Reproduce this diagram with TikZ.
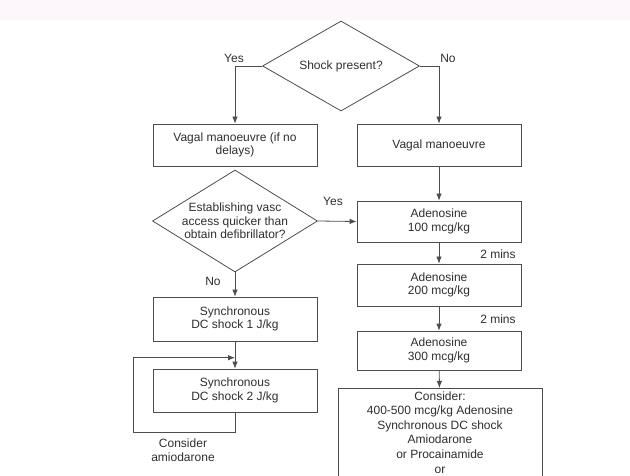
\documentclass[tikz,border=0pt]{standalone}
\usepackage{fontspec}
\setmainfont{Liberation Sans}
\usetikzlibrary{arrows}
\usetikzlibrary{arrows.meta}
\usetikzlibrary{calc}
\usetikzlibrary{positioning}
\usetikzlibrary{shapes.geometric}
\definecolor{linegray}{HTML}{4D4D4D}
\definecolor{textgray}{HTML}{2E2E2E}
\definecolor{bandpink}{HTML}{FDF7FB}
\tikzset{
	stepbox/.style={draw=linegray,line width=0.8pt,minimum width=164pt,minimum height=42pt,align=center,inner sep=2pt},
	choice/.style={draw=linegray,line width=0.8pt,diamond,align=center,inner xsep=-10pt,inner ysep=-5pt,shape aspect=1.65},
	flow/.style={draw=linegray,line width=0.8pt,-{Latex[length=7pt,width=5.5pt]}},
	tag/.style={inner sep=0pt,align=center}
}
\begin{document}
\begin{tikzpicture}[x=1pt,y=-1pt,font=\fontsize{12}{13.5}\selectfont,text=textgray]
		\useasboundingbox (0,0) rectangle (630,476);
		% left column
		\node[choice,minimum width=157pt,minimum height=90pt](shock) at (341,66) {Shock present?};
		\node[stepbox](vagalL) at (235,145) {Vagal manoeuvre (if no\\delays)};
		\node[choice,minimum width=165pt,minimum height=102pt](access) at (235,221) {Establishing vasc\\access quicker than\\obtain defibrillator?};
		\node[stepbox,minimum height=44pt](dcA) at (235,319) {Synchronous\\DC shock 1 J/kg};
		\node[stepbox,minimum height=43pt](dcB) at (235,390.5) {Synchronous\\DC shock 2 J/kg};
		% right column
		\node[stepbox](vagalR) at (439,145) {Vagal manoeuvre};
		\node[stepbox,minimum height=41pt](adenA) at (439,221.5) {Adenosine\\100 mcg/kg};
		\node[stepbox](adenB) at (439,285) {Adenosine\\200 mcg/kg};
		\node[stepbox,minimum height=39pt](adenC) at (439,350.5) {Adenosine\\300 mcg/kg};
		\node[stepbox,minimum width=204pt,anchor=north,inner ysep=3pt,font=\fontsize{12}{14.6}\selectfont](other) at (440,388) {Consider:\\400-500 mcg/kg Adenosine\\Synchronous DC shock\\Amiodarone\\or Procainamide\\or};
		% connectors
		\draw[flow] (shock.west) -| (vagalL.north);
		\draw[flow] (shock.east) -| (vagalR.north);
		\draw[flow] (vagalR) -- (adenA);
		\draw[flow] (access.east) -- (adenA.west);
		\draw[flow] (access.south) -- (dcA.north);
		\draw[flow] (dcA) -- (dcB);
		\draw[flow] (adenA) -- (adenB);
		\draw[flow] (adenB) -- (adenC);
		\draw[flow] (adenC) -- (other);
		\coordinate (loopin) at ($(dcA.south)!0.6!(dcB.north)$);
		\draw[flow] (dcB.south) -- ++(0,20) -| ([xshift=-102pt]loopin) -- (loopin);
		% labels
		\node[tag](yesA) at (234,58) {Yes};
		\node[tag](noA) at (448,58) {No};
		\node[tag](yesB) at (333,201) {Yes};
		\node[tag](noB) at (213,281) {No};
		\node[tag](minsA) at (498,254) {2 mins};
		\node[tag](minsB) at (498,319) {2 mins};
		\node[tag](amio) at (183,450) {Consider\\amiodarone};
		% top band
		\fill[bandpink] (0,0) rectangle (630,20);
	\end{tikzpicture}
\end{document}
